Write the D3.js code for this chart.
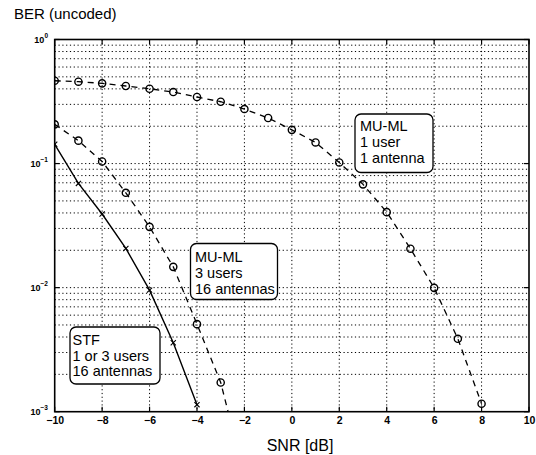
<!DOCTYPE html>
<html><head><meta charset="utf-8">
<script src="https://cdn.jsdelivr.net/npm/d3@7"></script>
<style>body{margin:0;background:#fff}svg{display:block}text{font-family:Arial,"Liberation Sans",Helvetica,sans-serif}</style>
</head><body><div id="chart"></div>
<script>
// SNR values (dB)
const snrSingle = [-10,-9,-8,-7,-6,-5,-4,-3,-2,-1,0,1,2,3,4,5,6,7,8];
const berSingle = [0.465,0.457,0.443,0.422,0.401,0.377,0.344,0.315,0.275,0.233,0.187,0.148,0.102,0.068,0.0406,0.0206,0.00996,0.00387,0.00116];
const snrMulti = [-10,-9,-8,-7,-6,-5,-4,-3,-2];
const berMulti = [0.207,0.153,0.104,0.0581,0.0309,0.0147,0.00508,0.00172,0.0003];
const snrSTF = [-10,-9,-8,-7,-6,-5,-4];
const berSTF = [0.143,0.0692,0.0392,0.0207,0.00955,0.00359,0.00114];
const xTicks = [-10,-8,-6,-4,-2,0,2,4,6,8,10];
const yTicks = [1,0.1,0.01,0.001];
const yExponents = ["0","−1","−2","−3"];
const labelSingle = ["MU-ML","1 user","1 antenna"];
const labelMulti = ["MU-ML","3 users","16 antennas"];
const labelSTF = ["STF","1 or 3 users","16 antennas"];

const W = 536, H = 455;
const L = 54.7, R = 529, T = 39.5, B = 411.7;
const svg = d3.select("#chart").append("svg").attr("width", W).attr("height", H);
const x = d3.scaleLinear().domain([-10,10]).range([L,R]);
const y = d3.scaleLog().domain([1e-3,1]).range([B,T]);

svg.append("defs").append("clipPath").attr("id","clip")
  .append("rect").attr("x",L).attr("y",T-6).attr("width",R-L).attr("height",B-T+6);

// grid
const grid = svg.append("g").attr("stroke","#000").attr("stroke-width",1).attr("stroke-dasharray","1.2,2.6").attr("fill","none");
xTicks.slice(1,-1).forEach(t => grid.append("line").attr("x1",x(t)).attr("x2",x(t)).attr("y1",T).attr("y2",B));
const minor = [];
for (let e=-3; e<0; e++) for (let m=1; m<10; m++) minor.push(m*Math.pow(10,e));
minor.filter(v => v>1e-3 && v<1).forEach(v => grid.append("line").attr("x1",L).attr("x2",R).attr("y1",y(v)).attr("y2",y(v)));

// axes ticks via d3 axes
const gx = svg.append("g").attr("transform",`translate(0,${B})`)
  .call(d3.axisBottom(x).tickValues(xTicks).tickSize(0).tickPadding(12).tickFormat(d => d3.format("")(d).replace("-","−")));
gx.select(".domain").remove();
gx.selectAll("text").attr("font-size",10.5).attr("font-weight","bold").attr("fill","#000").attr("dy",0).attr("y",12.5);

const ticks = svg.append("g").attr("stroke","#000").attr("stroke-width",1.2);
xTicks.forEach(t => {
  ticks.append("line").attr("x1",x(t)).attr("x2",x(t)).attr("y1",B).attr("y2",B-5);
  ticks.append("line").attr("x1",x(t)).attr("x2",x(t)).attr("y1",T).attr("y2",T+5);
});
yTicks.forEach(t => {
  ticks.append("line").attr("x1",L).attr("x2",L+5).attr("y1",y(t)).attr("y2",y(t));
  ticks.append("line").attr("x1",R).attr("x2",R-5).attr("y1",y(t)).attr("y2",y(t));
});

// y labels
yTicks.forEach((t,i) => {
  const tx = svg.append("text").attr("x",48).attr("y",y(t)+3.5).attr("text-anchor","end")
    .attr("font-size",9).attr("font-weight","bold");
  tx.append("tspan").text("10");
  tx.append("tspan").attr("font-size",6.5).attr("dy",-5).text(yExponents[i]);
});

// frame
svg.append("rect").attr("x",L).attr("y",T).attr("width",R-L).attr("height",B-T)
  .attr("fill","none").attr("stroke","#000").attr("stroke-width",1.6);

// curves
const plot = svg.append("g").attr("clip-path","url(#clip)");
const line = d3.line().x(d=>x(d[0])).y(d=>y(d[1]));
const dSingle = d3.zip(snrSingle, berSingle);
const dMulti = d3.zip(snrMulti, berMulti);
const dSTF = d3.zip(snrSTF, berSTF);
plot.append("path").datum(dSingle).attr("d",line).attr("fill","none").attr("stroke","#000").attr("stroke-width",1.3).attr("stroke-dasharray","6,5");
plot.append("path").datum(dMulti).attr("d",line).attr("fill","none").attr("stroke","#000").attr("stroke-width",1.3).attr("stroke-dasharray","6,5");
plot.append("path").datum(dSTF).attr("d",line).attr("fill","none").attr("stroke","#000").attr("stroke-width",1.4);
[dSingle, dMulti].forEach(ds => plot.selectAll(null).data(ds).enter().append("circle")
  .attr("cx",d=>x(d[0])).attr("cy",d=>y(d[1])).attr("r",3.6).attr("fill","none").attr("stroke","#000").attr("stroke-width",1.4));
plot.selectAll(null).data(dSTF).enter().append("path")
  .attr("d",d=>{const cx=x(d[0]),cy=y(d[1]),s=2.6;return `M${cx-s},${cy-s}L${cx+s},${cy+s}M${cx-s},${cy+s}L${cx+s},${cy-s}`;})
  .attr("stroke","#000").attr("stroke-width",1.1);

// annotation boxes
function box(lines, bx, by, bw, bh, tx, tb, lh){
  svg.append("rect").attr("x",bx).attr("y",by).attr("width",bw).attr("height",bh).attr("rx",6)
    .attr("fill","#fff").attr("stroke","#000").attr("stroke-width",1.3);
  lines.forEach((s,i)=>svg.append("text").attr("x",tx).attr("y",tb+i*lh).attr("font-size",14.5).attr("fill","#000").text(s));
}
box(labelSingle, 355, 114, 78, 58.5, 360, 130.7, 16.3);
box(labelMulti, 190.5, 243.5, 87, 56, 195, 261.5, 16.2);
box(labelSTF, 70, 327, 90, 57, 72.5, 345, 15.6);

// titles
svg.append("text").attr("x",14).attr("y",18.5).attr("font-size",15).text("BER (uncoded)");
svg.append("text").attr("x",300).attr("y",451).attr("font-size",16).attr("text-anchor","middle").text("SNR [dB]");
</script></body></html>
